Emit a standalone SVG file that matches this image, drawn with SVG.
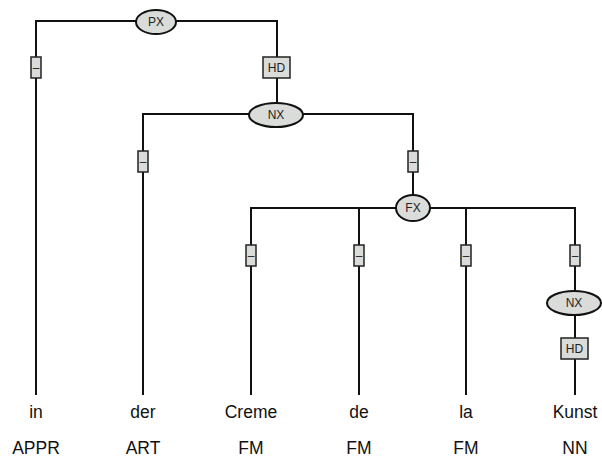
<svg xmlns="http://www.w3.org/2000/svg" width="602" height="460" viewBox="0 0 602 460">
<style>
.e{fill:#d9dcd9;stroke:#111;stroke-width:2}
.b{fill:#d9dcd9;stroke:#222;stroke-width:1.5}
.l{fill:none;stroke:#111;stroke-width:2}
.t{font-family:"Liberation Sans",Arial,sans-serif;font-size:12px;fill:#222;text-anchor:middle}
.w{font-family:"Liberation Sans",Arial,sans-serif;font-size:17.5px;fill:#111;text-anchor:middle}
</style>
<rect width="602" height="460" fill="#fff"/>
<g id="connectors">
<path class="l" d="M36,395V21H277V103"/>
<path class="l" d="M143,395V114H413V195"/>
<path class="l" d="M251,395V208H575V395"/>
<path class="l" d="M359,208V395M466,208V395"/>
</g>
<g id="PX"><ellipse class="e" cx="156" cy="22" rx="20" ry="12"/><text class="t" x="156" y="26">PX</text></g>
<g id="e1"><rect class="b" x="31" y="57" width="10" height="21"/><text class="t" x="36" y="72">–</text></g>
<g id="hd1"><rect class="b" x="263" y="57" width="27" height="21"/><text class="t" x="276.5" y="72">HD</text></g>
<g id="NX1"><ellipse class="e" cx="276" cy="115" rx="27" ry="12"/><text class="t" x="276" y="119">NX</text></g>
<g id="e2"><rect class="b" x="138" y="151" width="10" height="21"/><text class="t" x="143" y="166">–</text></g>
<g id="e3"><rect class="b" x="408" y="151" width="10" height="21"/><text class="t" x="413" y="166">–</text></g>
<g id="FX"><ellipse class="e" cx="413" cy="208" rx="17" ry="13"/><text class="t" x="413" y="212">FX</text></g>
<g id="e4"><rect class="b" x="246" y="245" width="10" height="21"/><text class="t" x="251" y="260">–</text></g>
<g id="e5"><rect class="b" x="354" y="245" width="10" height="21"/><text class="t" x="359" y="260">–</text></g>
<g id="e6"><rect class="b" x="461" y="245" width="10" height="21"/><text class="t" x="466" y="260">–</text></g>
<g id="e7"><rect class="b" x="570" y="245" width="10" height="21"/><text class="t" x="575" y="260">–</text></g>
<g id="NX2"><ellipse class="e" cx="574" cy="303" rx="27" ry="12"/><text class="t" x="574" y="307">NX</text></g>
<g id="hd2"><rect class="b" x="561" y="338" width="27" height="21"/><text class="t" x="574.5" y="353">HD</text></g>
<g id="words">
<text class="w" x="36" y="418">in</text>
<text class="w" x="143" y="418">der</text>
<text class="w" x="251" y="418">Creme</text>
<text class="w" x="359" y="418">de</text>
<text class="w" x="466" y="418">la</text>
<text class="w" x="575" y="418">Kunst</text>
<text class="w" x="36" y="454">APPR</text>
<text class="w" x="143" y="454">ART</text>
<text class="w" x="251" y="454">FM</text>
<text class="w" x="359" y="454">FM</text>
<text class="w" x="466" y="454">FM</text>
<text class="w" x="575" y="454">NN</text>
</g>
</svg>
